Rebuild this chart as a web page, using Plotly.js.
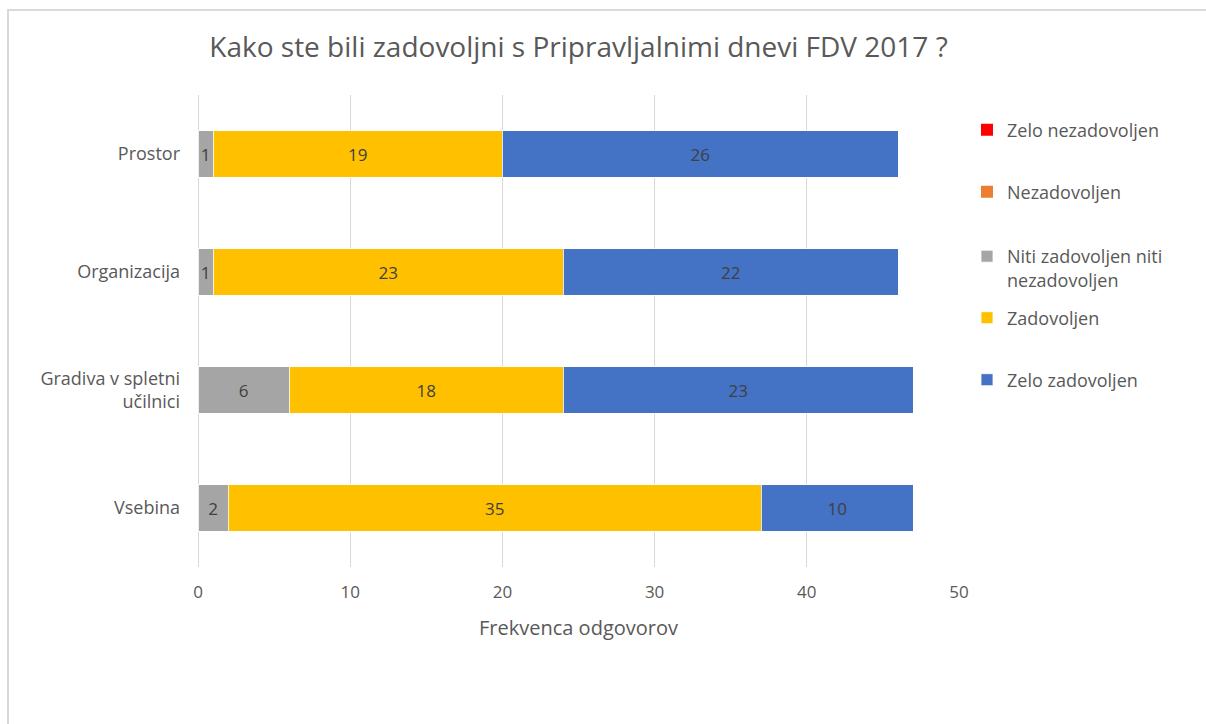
<!DOCTYPE html>
<html>
<head>
<meta charset="utf-8">
<script src="https://cdn.plot.ly/plotly-3.0.1.min.js"></script>
<style>
html,body{margin:0;padding:0;background:#fff;}
#chart{width:1206px;height:724px;}
</style>
</head>
<body>
<div id="chart"></div>
<script>
const categories = ["Prostor", "Organizacija", "Gradiva v spletni<br>učilnici", "Vsebina"];
const seriesNames = ["Zelo nezadovoljen", "Nezadovoljen", "Niti zadovoljen niti<br>nezadovoljen", "Zadovoljen", "Zelo zadovoljen"];
const zeloNezadovoljen = [0, 0, 0, 0];
const nezadovoljen = [0, 0, 0, 0];
const nitiNiti = [1, 1, 6, 2];
const zadovoljen = [19, 23, 18, 35];
const zeloZadovoljen = [26, 22, 23, 10];
const xTicks = [0, 10, 20, 30, 40, 50];
const titleText = "Kako ste bili zadovoljni s Pripravljalnimi dnevi FDV 2017 ?";
const xTitle = "Frekvenca odgovorov";

const colors = ["#FF0000", "#ED7D31", "#A5A5A5", "#FFC000", "#4472C4"];
const values = [zeloNezadovoljen, nezadovoljen, nitiNiti, zadovoljen, zeloZadovoljen];
const FONT = "Open Sans, sans-serif";

// plot area in px
const L = 198, R = 959, T = 95, B = 567, W = 1206, H = 724;
const px2x = p => (p - L) / (R - L);
const py2y = p => (B - p) / (B - T);

const legendY = [130, 192, 268, 318, 380];
const legendNames = ["legend", "legend2", "legend3", "legend4", "legend5"];

const traces = values.map((v, i) => ({
  type: "bar",
  orientation: "h",
  name: seriesNames[i],
  y: categories,
  x: v,
  marker: {color: colors[i], line: {color: "#ffffff", width: v.some(a => a > 0) ? 0.8 : 0}},
  text: v.map(a => a > 0 ? String(a) : ""),
  textposition: "inside",
  insidetextanchor: "middle",
  constraintext: "none",
  textfont: {family: FONT, size: 17, color: "#404040"},
  hoverinfo: "x+name",
  legend: legendNames[i]
}));

const layout = {
  width: W, height: H,
  paper_bgcolor: "#ffffff",
  plot_bgcolor: "#ffffff",
  margin: {l: L, r: W - R, t: T, b: H - B, pad: 0},
  barmode: "stack",
  bargap: 0.605,
  font: {family: FONT, color: "#595959"},
  title: {
    text: titleText,
    font: {family: FONT, size: 28, color: "#595959"},
    xref: "paper", x: 0.5, xanchor: "center",
    yref: "container", y: 1 - 47 / H, yanchor: "middle"
  },
  xaxis: {
    range: [0, 50],
    tickvals: xTicks,
    ticktext: xTicks.map(String),
    showgrid: true, gridcolor: "#d9d9d9", gridwidth: 1,
    zeroline: true, zerolinecolor: "#d9d9d9", zerolinewidth: 1,
    showline: false,
    ticks: "", ticklabelstandoff: 13,
    tickfont: {family: FONT, size: 17, color: "#595959"},
    title: {text: xTitle, font: {family: FONT, size: 20, color: "#595959"}, standoff: 18},
    fixedrange: true
  },
  yaxis: {
    autorange: "reversed",
    showgrid: false, zeroline: false, showline: false,
    ticks: "", ticklabelstandoff: 17,
    tickfont: {family: FONT, size: 18, color: "#595959"},
    fixedrange: true
  },
  shapes: [
    {type: "line", xref: "paper", yref: "paper", x0: px2x(7), x1: px2x(W), y0: py2y(10), y1: py2y(10), line: {color: "#d9d9d9", width: 2}},
    {type: "line", xref: "paper", yref: "paper", x0: px2x(8), x1: px2x(8), y0: py2y(10), y1: py2y(H), line: {color: "#d9d9d9", width: 2}}
  ],
  showlegend: true
};

legendNames.forEach((ln, i) => {
  layout[ln] = {
    x: px2x(967), xanchor: "left",
    y: py2y(legendY[i]), yanchor: "middle",
    xref: "paper", yref: "paper",
    bgcolor: "rgba(0,0,0,0)",
    borderwidth: 0,
    valign: "top",
    itemwidth: 30,
    font: {family: FONT, size: 18, color: "#595959"}
  };
});

Plotly.newPlot("chart", traces, layout, {displayModeBar: false, staticPlot: true});
</script>
</body>
</html>
